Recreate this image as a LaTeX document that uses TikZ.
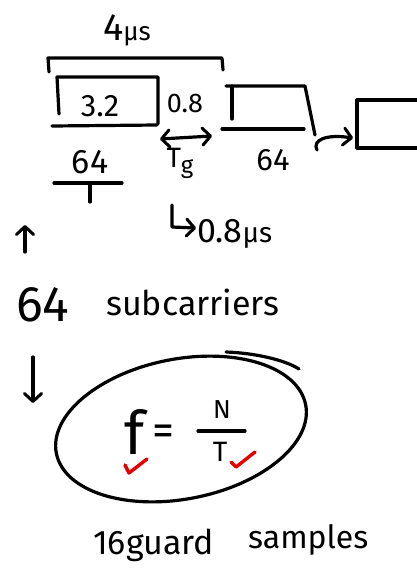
\documentclass[tikz,border=0pt]{standalone}
\usepackage{fontspec}
\setmainfont{Fira Sans}
\usetikzlibrary{arrows.meta}
\begin{document}
\begin{tikzpicture}[x=1pt,y=-1pt,
  ink/.style={line width=3.2pt,line cap=round,line join=round,black},
  redink/.style={line width=3.4pt,line cap=round,line join=round,red!90!black},
  hand/.style={inner sep=0pt,font=\fontsize{#1}{#1}\selectfont},
  barb/.tip={Straight Barb[length=8pt,width=17pt,line width=3pt,round]},
  tip/.style={-barb}]
\useasboundingbox (0,0) rectangle (417,573);

% symbol duration bracket
\node[hand=38] (dur) at (127,30) {4\fontsize{26}{26}\selectfont μs};
\draw[ink] (49,72) -- (48,58) -- (222,58) -- (223,70);

% first symbol: useful part and guard label
\draw[ink] (59,114) -- (57,77) -- (158,77) -- (158,124);
\draw[ink] (52,126) -- (157,125);
\node[hand=31] (useful) at (100,106) {3.2};
\node[hand=27] (guard) at (185,103) {0.8};
\node[hand=34] (nfirst) at (90,162) {64};
\draw[ink] (54,183) -- (122,183);
\draw[ink] (90,184) -- (90,202);

% guard interval arrow
\coordinate (ga) at (160,139);
\coordinate (gb) at (212,136);
\draw[ink,barb-barb] (ga) -- (gb);
\node[hand=28] (tg) at (180,163) {T\raisebox{-6pt}{\fontsize{24}{24}\selectfont g}};

% note on guard length
\coordinate (la) at (172,205);
\coordinate (lb) at (196,228);
\draw[ink,tip] (la) -- (172,227) -- (lb);
\node[hand=34,anchor=west] (gt) at (197,234) {0.8\fontsize{28}{28}\selectfont μs};

% second and third symbols
\draw[ink] (232,119) -- (232,86);
\draw[ink] (226,86) -- (305,86) -- (315,135);
\draw[ink] (222,129) -- (304,129);
\node[hand=31] (nsecond) at (273,160) {64};
\draw[ink] (357,100) rectangle (420,148);
\coordinate (ca) at (317,150);
\coordinate (cb) at (353,138);
\draw[ink,tip] (ca) .. controls (312,140) and (326,134) .. (cb);

% subcarrier count with arrows
\draw[ink,tip] (25,252) -- (25,225);
\node[hand=50,anchor=west] (sixtyfour) at (16,305) {64};
\node[hand=34,anchor=west] (sub) at (106,302) {subcarriers};
\draw[ink,tip] (33,357) -- (33,403);

% circled relation
\begin{scope}[shift={(181,429)},rotate=11]
  \draw[ink] (0,0) ellipse [x radius=127, y radius=70];
\end{scope}
\draw[ink] (226,352) .. controls (255,353) and (285,360) .. (299,369);
\node[hand=60] (feq) at (135,432) {f};
\node[hand=44] (eq) at (163,435) {=};
\node[hand=26] (num) at (222,410) {N};
\draw[ink] (198,431) -- (245,431);
\node[hand=28] (den) at (220,452) {T};
\draw[redink] (125,465) -- (129,473) -- (147,459);
\draw[redink] (231,462) -- (236,467) -- (255,452);

% guard samples
\node[hand=34,anchor=west] (sixteen) at (93,545) {16guard};
\node[hand=32,anchor=west] (samp) at (248,540) {samples};
\end{tikzpicture}
\end{document}
